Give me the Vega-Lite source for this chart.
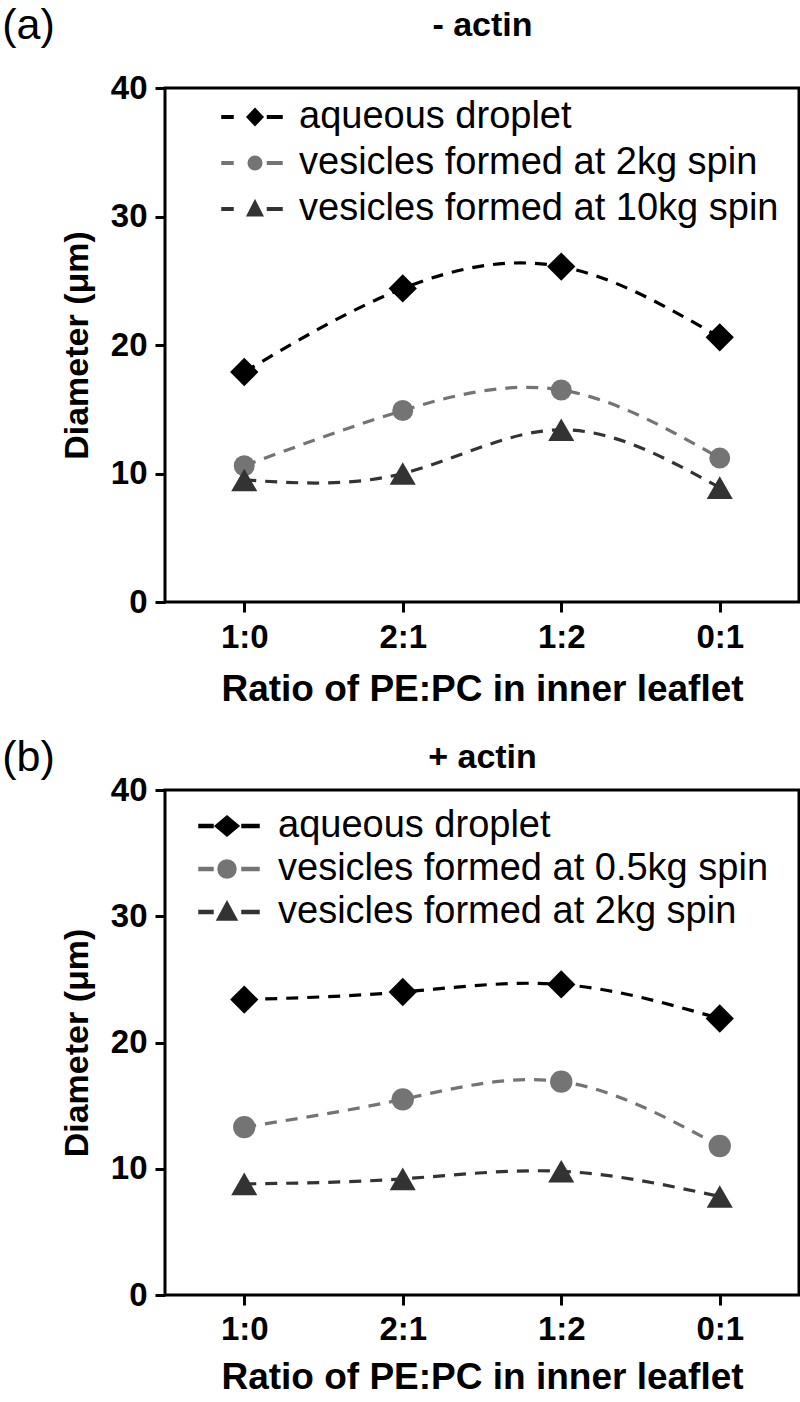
{
  "$schema": "https://vega.github.io/schema/vega-lite/v6.json",
  "padding": {"left": 0, "top": 3, "right": 0, "bottom": 0},
  "background": "white",
  "spacing": 26,
  "datasets": {
    "a": [
      {"ratio": "1:0", "series": "aqueous droplet", "d": 17.9},
      {"ratio": "2:1", "series": "aqueous droplet", "d": 24.4},
      {"ratio": "1:2", "series": "aqueous droplet", "d": 26.1},
      {"ratio": "0:1", "series": "aqueous droplet", "d": 20.6},
      {"ratio": "1:0", "series": "vesicles formed at 2kg spin", "d": 10.6},
      {"ratio": "2:1", "series": "vesicles formed at 2kg spin", "d": 14.9},
      {"ratio": "1:2", "series": "vesicles formed at 2kg spin", "d": 16.5},
      {"ratio": "0:1", "series": "vesicles formed at 2kg spin", "d": 11.2},
      {"ratio": "1:0", "series": "vesicles formed at 10kg spin", "d": 9.5},
      {"ratio": "2:1", "series": "vesicles formed at 10kg spin", "d": 10.0},
      {"ratio": "1:2", "series": "vesicles formed at 10kg spin", "d": 13.4},
      {"ratio": "0:1", "series": "vesicles formed at 10kg spin", "d": 8.9}
    ],
    "b": [
      {"ratio": "1:0", "series": "aqueous droplet", "d": 23.4},
      {"ratio": "2:1", "series": "aqueous droplet", "d": 24.0},
      {"ratio": "1:2", "series": "aqueous droplet", "d": 24.6},
      {"ratio": "0:1", "series": "aqueous droplet", "d": 21.9},
      {"ratio": "1:0", "series": "vesicles formed at 0.5kg spin", "d": 13.3},
      {"ratio": "2:1", "series": "vesicles formed at 0.5kg spin", "d": 15.5},
      {"ratio": "1:2", "series": "vesicles formed at 0.5kg spin", "d": 16.9},
      {"ratio": "0:1", "series": "vesicles formed at 0.5kg spin", "d": 11.8},
      {"ratio": "1:0", "series": "vesicles formed at 2kg spin", "d": 8.8},
      {"ratio": "2:1", "series": "vesicles formed at 2kg spin", "d": 9.2},
      {"ratio": "1:2", "series": "vesicles formed at 2kg spin", "d": 9.8},
      {"ratio": "0:1", "series": "vesicles formed at 2kg spin", "d": 7.8}
    ]
  },
  "config": {
    "font": "Liberation Sans",
    "view": {"stroke": "black", "strokeWidth": 3},
    "axis": {
      "labelFont": "Liberation Sans", "labelFontWeight": "bold", "labelFontSize": 33, "labelColor": "black",
      "titleFont": "Liberation Sans", "titleFontSize": 34, "titleFontWeight": "bold", "titleColor": "black",
      "domain": false, "tickColor": "black", "tickWidth": 3, "tickSize": 10, "grid": false
    },
    "legend": {"labelFont": "Liberation Sans", "labelFontSize": 38, "labelColor": "black", "labelLimit": 0, "symbolSize": 400},
    "title": {"font": "Liberation Sans", "fontSize": 43, "fontWeight": "normal", "color": "black", "anchor": "start", "frame": "bounds"}
  },
  "resolve": {"scale": {"color": "independent", "shape": "independent"}},
  "vconcat": [
    {
      "width": 634, "height": 514,
      "data": {"name": "a"},
      "title": {"text": "(a)", "dx": -58, "offset": -40},
      "resolve": {"axis": {"x": "independent"}},
      "layer": [
        {
          "mark": {"type": "line", "interpolate": "natural", "strokeDash": [12, 9], "strokeWidth": 3.2},
          "encoding": {
            "x": {"field": "ratio", "type": "ordinal", "sort": ["1:0", "2:1", "1:2", "0:1"], "scale": {"type": "point", "padding": 0.5},
                  "axis": {"orient": "top", "title": "- actin", "labels": false, "ticks": false, "titlePadding": 46}},
            "y": {"field": "d", "type": "quantitative", "scale": {"domain": [0, 40]}, "axis": {"values": [0, 10, 20, 30, 40], "title": "Diameter (μm)", "titlePadding": 16, "labelPadding": 8}},
            "color": {"field": "series", "type": "nominal", "scale": {"domain": ["aqueous droplet", "vesicles formed at 2kg spin", "vesicles formed at 10kg spin"], "range": ["#000000", "#747474", "#333333"]},
              "legend": {"orient": "none", "legendX": 71, "legendY": 10, "title": null, "labelOffset": 25, "rowPadding": 8}}
          }
        },
        {
          "mark": {"type": "point", "filled": true, "opacity": 1, "size": 0},
          "encoding": {
            "x": {"field": "ratio", "type": "ordinal", "sort": ["1:0", "2:1", "1:2", "0:1"], "axis": {"orient": "bottom", "title": "Ratio of PE:PC in inner leaflet", "labelAngle": 0, "labelPadding": 9, "titlePadding": 17, "titleFontSize": 37}},
            "y": {"field": "d", "type": "quantitative"},
            "color": {"field": "series", "type": "nominal"},
            "shape": {"field": "series", "type": "nominal", "legend": null, "scale": {"domain": ["aqueous droplet", "vesicles formed at 2kg spin", "vesicles formed at 10kg spin"],
              "range": [
                "M-3.3,-0.13H-2.2V0.13H-3.3ZM-0.8,0L0,-0.85L0.8,0L0,0.85ZM1.25,-0.13H2.7V0.13H1.25Z",
                "M-3.3,-0.13H-2.2V0.13H-3.3ZM-0.68,0A0.68,0.68,0,1,1,0.68,0A0.68,0.68,0,1,1,-0.68,0ZM1.25,-0.13H2.7V0.13H1.25Z",
                "M-3.3,-0.13H-2.2V0.13H-3.3ZM0,-0.85L0.78,0.68L-0.78,0.68ZM1.25,-0.13H2.7V0.13H1.25Z"
              ]}}
          }
        },
        {
          "transform": [{"filter": "datum.series === 'aqueous droplet'"}],
          "mark": {"type": "point", "shape": "diamond", "size": 800, "filled": true, "opacity": 1},
          "encoding": {"x": {"field": "ratio", "type": "ordinal", "sort": ["1:0", "2:1", "1:2", "0:1"], "axis": null}, "y": {"field": "d", "type": "quantitative"}, "color": {"field": "series", "type": "nominal"}}
        },
        {
          "transform": [{"filter": "datum.series === 'vesicles formed at 2kg spin'"}],
          "mark": {"type": "point", "shape": "circle", "size": 440, "filled": true, "opacity": 1},
          "encoding": {"x": {"field": "ratio", "type": "ordinal", "sort": ["1:0", "2:1", "1:2", "0:1"], "axis": null}, "y": {"field": "d", "type": "quantitative"}, "color": {"field": "series", "type": "nominal"}}
        },
        {
          "transform": [{"filter": "datum.series === 'vesicles formed at 10kg spin'"}],
          "mark": {"type": "point", "shape": "triangle-up", "size": 680, "filled": true, "opacity": 1},
          "encoding": {"x": {"field": "ratio", "type": "ordinal", "sort": ["1:0", "2:1", "1:2", "0:1"], "axis": null}, "y": {"field": "d", "type": "quantitative"}, "color": {"field": "series", "type": "nominal"}}
        }
      ]
    },
    {
      "width": 634, "height": 505,
      "data": {"name": "b"},
      "title": {"text": "(b)", "dx": -58, "offset": -40},
      "resolve": {"axis": {"x": "independent"}},
      "layer": [
        {
          "mark": {"type": "line", "interpolate": "natural", "strokeDash": [12, 9], "strokeWidth": 3.2},
          "encoding": {
            "x": {"field": "ratio", "type": "ordinal", "sort": ["1:0", "2:1", "1:2", "0:1"], "scale": {"type": "point", "padding": 0.5},
                  "axis": {"orient": "top", "title": "+ actin", "labels": false, "ticks": false, "titlePadding": 16}},
            "y": {"field": "d", "type": "quantitative", "scale": {"domain": [0, 40]}, "axis": {"values": [0, 10, 20, 30, 40], "title": "Diameter (μm)", "titlePadding": 16, "labelPadding": 8}},
            "color": {"field": "series", "type": "nominal", "scale": {"domain": ["aqueous droplet", "vesicles formed at 0.5kg spin", "vesicles formed at 2kg spin"], "range": ["#000000", "#747474", "#333333"]},
              "legend": {"orient": "none", "legendX": 43, "legendY": 17, "title": null, "labelOffset": 32, "rowPadding": 5}}
          }
        },
        {
          "mark": {"type": "point", "filled": true, "opacity": 1, "size": 0},
          "encoding": {
            "x": {"field": "ratio", "type": "ordinal", "sort": ["1:0", "2:1", "1:2", "0:1"], "axis": {"orient": "bottom", "title": "Ratio of PE:PC in inner leaflet", "labelAngle": 0, "labelPadding": 8, "titlePadding": 13, "titleFontSize": 37}},
            "y": {"field": "d", "type": "quantitative"},
            "color": {"field": "series", "type": "nominal"},
            "shape": {"field": "series", "type": "nominal", "legend": null, "scale": {"domain": ["aqueous droplet", "vesicles formed at 0.5kg spin", "vesicles formed at 2kg spin"],
              "range": [
                "M-2.8,-0.15H-1.4V0.15H-2.8ZM-1.2,0L0,-1.0L1.2,0L0,1.0ZM1.5,-0.15H3.2V0.15H1.5Z",
                "M-2.8,-0.15H-1.4V0.15H-2.8ZM-0.9,0A0.9,0.9,0,1,1,0.9,0A0.9,0.9,0,1,1,-0.9,0ZM1.5,-0.15H3.2V0.15H1.5Z",
                "M-2.8,-0.15H-1.4V0.15H-2.8ZM0,-1.05L1.0,0.8L-1.0,0.8ZM1.5,-0.15H3.2V0.15H1.5Z"
              ]}}
          }
        },
        {
          "transform": [{"filter": "datum.series === 'aqueous droplet'"}],
          "mark": {"type": "point", "shape": "diamond", "size": 800, "filled": true, "opacity": 1},
          "encoding": {"x": {"field": "ratio", "type": "ordinal", "sort": ["1:0", "2:1", "1:2", "0:1"], "axis": null}, "y": {"field": "d", "type": "quantitative"}, "color": {"field": "series", "type": "nominal"}}
        },
        {
          "transform": [{"filter": "datum.series === 'vesicles formed at 0.5kg spin'"}],
          "mark": {"type": "point", "shape": "circle", "size": 500, "filled": true, "opacity": 1},
          "encoding": {"x": {"field": "ratio", "type": "ordinal", "sort": ["1:0", "2:1", "1:2", "0:1"], "axis": null}, "y": {"field": "d", "type": "quantitative"}, "color": {"field": "series", "type": "nominal"}}
        },
        {
          "transform": [{"filter": "datum.series === 'vesicles formed at 2kg spin'"}],
          "mark": {"type": "point", "shape": "triangle-up", "size": 680, "filled": true, "opacity": 1},
          "encoding": {"x": {"field": "ratio", "type": "ordinal", "sort": ["1:0", "2:1", "1:2", "0:1"], "axis": null}, "y": {"field": "d", "type": "quantitative"}, "color": {"field": "series", "type": "nominal"}}
        }
      ]
    }
  ]
}
